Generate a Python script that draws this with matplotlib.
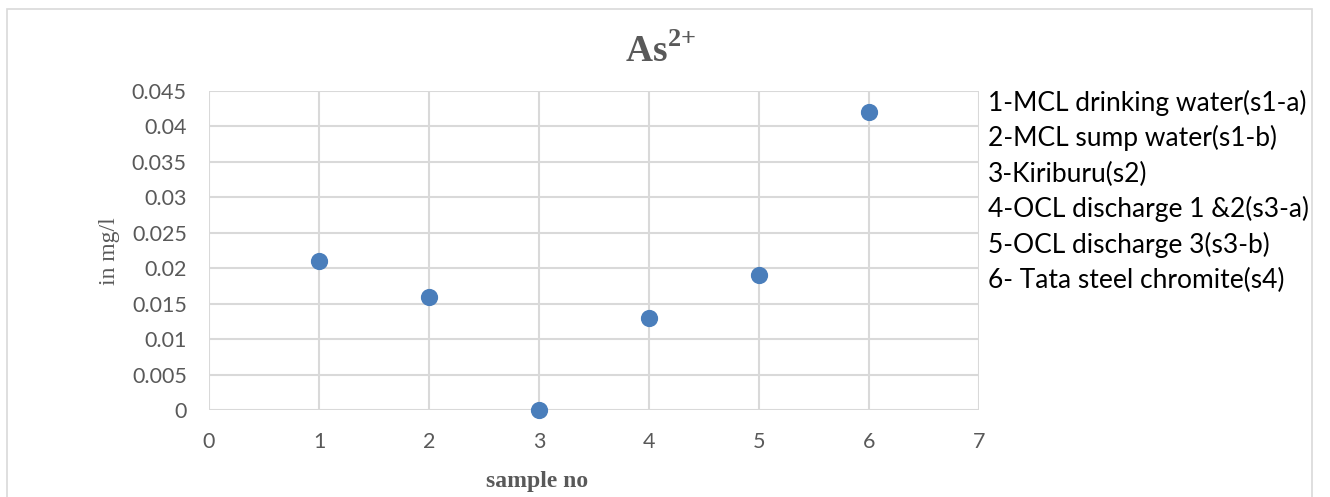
import matplotlib
matplotlib.use("Agg")
import matplotlib.pyplot as plt
from matplotlib.patches import Rectangle

# Arsenic concentration per sample
sample_no = [1, 2, 3, 4, 5, 6]
as_mg_per_l = [0.021, 0.016, 0.0, 0.013, 0.019, 0.042]
sample_names = [
    "1-MCL drinking water(s1-a)",
    "2-MCL sump water(s1-b)",
    "3-Kiriburu(s2)",
    "4-OCL discharge 1 &2(s3-a)",
    "5-OCL discharge 3(s3-b)",
    "6- Tata steel chromite(s4)",
]
x_ticks = [0, 1, 2, 3, 4, 5, 6, 7]
y_ticks = [0, 0.005, 0.01, 0.015, 0.02, 0.025, 0.03, 0.035, 0.04, 0.045]
y_tick_labels = ["0", "0.005", "0.01", "0.015", "0.02", "0.025", "0.03", "0.035", "0.04", "0.045"]

W, H = 1330, 497
plt.rcParams["mathtext.fontset"] = "custom"
plt.rcParams["mathtext.rm"] = "Liberation Serif"
plt.rcParams["mathtext.bf"] = "Liberation Serif:bold"

fig = plt.figure(figsize=(W / 100, H / 100), dpi=100)
fig.patch.set_facecolor("white")

# chart frame
fig.add_artist(Rectangle((7 / W, -0.05), (1312 - 7) / W, 1.05 - 9 / H,
                         transform=fig.transFigure, fill=False,
                         edgecolor="#d9d9d9", linewidth=1.2))

ax = fig.add_axes([209 / W, (H - 410) / H, (979 - 209) / W, (410 - 91) / H])
ax.set_xlim(0, 7)
ax.set_ylim(0, 0.045)
ax.set_xticks(x_ticks)
ax.set_xticklabels([str(t) for t in x_ticks])
ax.set_yticks(y_ticks)
ax.set_yticklabels(y_tick_labels)
ax.grid(True, color="#d9d9d9", linewidth=1.5)
ax.set_axisbelow(True)
for s in ax.spines.values():
    s.set_visible(False)
ax.tick_params(length=0, pad=16, labelsize=15.5, labelcolor="#595959")
for lab in ax.get_xticklabels() + ax.get_yticklabels():
    lab.set_fontfamily("Lato")

ax.scatter(sample_no, as_mg_per_l, s=130, color="#4a7ebb", zorder=3, clip_on=False)

# title, axis labels
fig.text(660 / W, 1 - 52 / H, r"$\mathbf{As}^{\mathbf{2{+}}}$", ha="center", va="center",
         fontsize=27, color="#595959")
fig.text(109 / W, 1 - 251 / H, "in mg/l", rotation=90, ha="center", va="center",
         fontsize=17, color="#595959", family="Liberation Serif")
fig.text(537 / W, 1 - 481 / H, "sample no", ha="center", va="center",
         fontsize=17, fontweight="bold", color="#595959", family="Liberation Serif")

# sample key
for i, name in enumerate(sample_names):
    fig.text(988 / W, 1 - (111 + 35.4 * i) / H, name, ha="left", va="baseline",
             fontsize=19, color="black", family="Lato")

fig.savefig("out.png", dpi=100, facecolor="white")
